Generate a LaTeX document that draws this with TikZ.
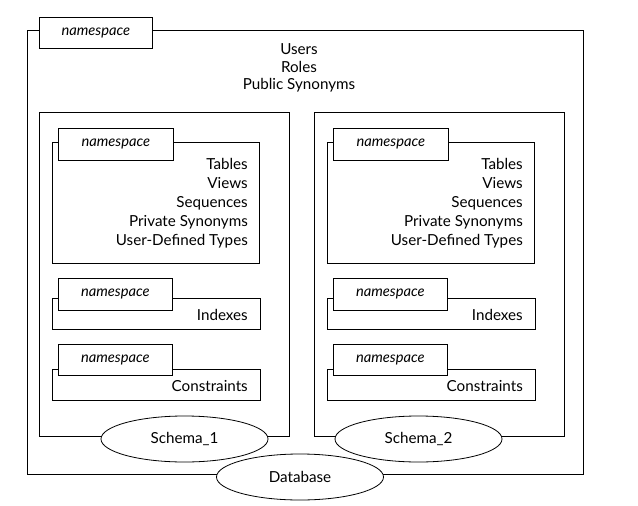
\documentclass[tikz,border=0pt]{standalone}
\usepackage{fontspec}
\setmainfont{Lato}
\usetikzlibrary{positioning, shapes.geometric}

\begin{document}
\begin{tikzpicture}[x=1pt, y=-1pt]
    \tikzset{
      frame/.style={draw, anchor=north west, inner sep=0pt,
                    line width=0.8pt},
      tab/.style={draw, fill=white, anchor=north west, inner sep=0pt,
                  line width=0.8pt, font=\fontsize{14.7}{16}\selectfont\itshape},
      items/.style={align=right, inner sep=0pt,
                    font=\fontsize{15.2}{19}\selectfont},
      oval/.style={draw, fill=white, shape=ellipse, line width=0.8pt,
                   minimum width=167pt, minimum height=46pt,
                   font=\fontsize{15.2}{17}\selectfont}
    }
    \useasboundingbox (0,0) rectangle (638,506);

    % database level
    \node[frame, minimum width=556pt, minimum height=444pt] (db) at (27,30) {};
    \node[tab, minimum width=113pt, minimum height=31pt] (dbtab) at (39,17) {namespace};
    \node[items, align=center, font=\fontsize{15.2}{17.8}\selectfont] (global) at (299,68)
        {Users\\Roles\\Public Synonyms};

    % the two schemas
    \foreach \s/\x/\ox in {1/39/145.5, 2/314/104.5} {
        \node[frame, minimum width=250pt, minimum height=324pt] (schema\s) at (\x,112) {};

        \node[frame, minimum width=207pt, minimum height=121pt] (obj\s) at (\x+13,142) {};
        \node[tab, minimum width=115pt, minimum height=32pt] (objtab\s) at (\x+19,128) {namespace};
        \node[items, anchor=east] (objlist\s) at (\x+209,203)
            {Tables\\Views\\Sequences\\Private Synonyms\\User-Defined Types};

        \node[frame, minimum width=208pt, minimum height=31pt] (idx\s) at (\x+13,298) {};
        \node[tab, minimum width=114pt, minimum height=32pt] (idxtab\s) at (\x+19,278) {namespace};
        \node[items, anchor=east] (idxlist\s) at (\x+209,315) {Indexes};

        \node[frame, minimum width=208pt, minimum height=31pt] (con\s) at (\x+13,369) {};
        \node[tab, minimum width=114pt, minimum height=31pt] (contab\s) at (\x+19,344) {namespace};
        \node[items, anchor=east] (conlist\s) at (\x+209,386) {Constraints};

        \node[oval] (name\s) at (\x+\ox,439) {Schema\_\s};
    }

    \node[oval] (dbname) at (300,477) {Database};
\end{tikzpicture}
\end{document}
